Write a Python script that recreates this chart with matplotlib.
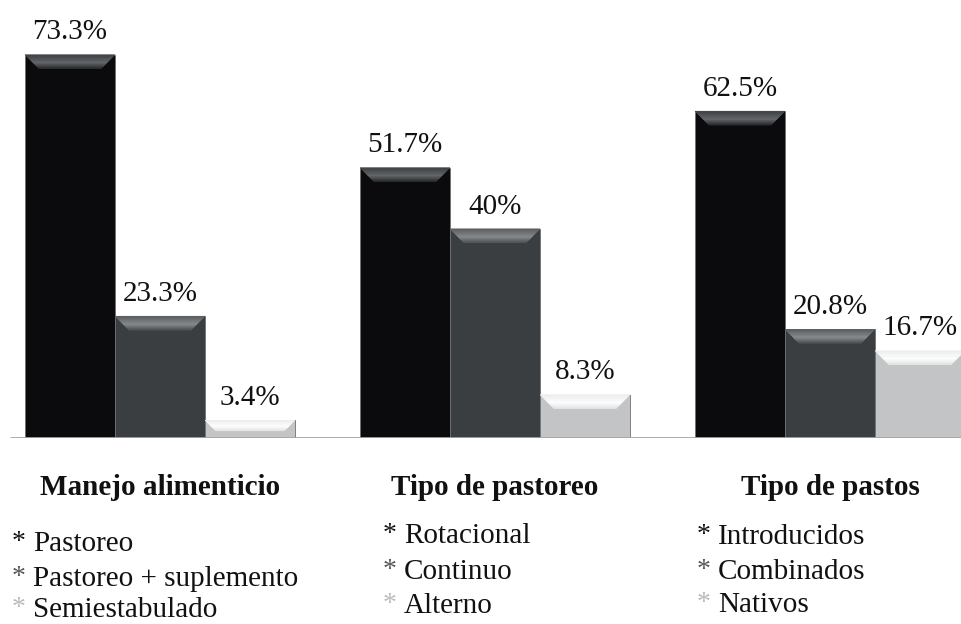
import matplotlib.pyplot as plt
import matplotlib.colors as mcolors
import matplotlib.transforms as mtransforms
import numpy as np

plt.rcParams['font.family'] = ['Liberation Serif', 'DejaVu Serif']

groups = ['Manejo alimenticio', 'Tipo de pastoreo', 'Tipo de pastos']
values = [
    [73.3, 23.3, 3.4],
    [51.7, 40.0, 8.3],
    [62.5, 20.8, 16.7],
]
value_labels = [
    ['73.3%', '23.3%', '3.4%'],
    ['51.7%', '40%', '8.3%'],
    ['62.5%', '20.8%', '16.7%'],
]
items = [
    ['Pastoreo', 'Pastoreo + suplemento', 'Semiestabulado'],
    ['Rotacional', 'Continuo', 'Alterno'],
    ['Introducidos', 'Combinados', 'Nativos'],
]

bar_colors = ['#0b0b0d', '#3b3e41', '#c3c4c6']
# bevel gradient: edge -> ridge -> inner
bevel_stops = [
    ['#3e4044', '#66696d', '#2a2c2f'],
    ['#5a5d60', '#8a8d90', '#505356'],
    ['#eeeeee', '#ffffff', '#e4e5e6'],
]
star_colors = ['#111111', '#555555', '#bbbbbb']

W, H = 961, 624
fig = plt.figure(figsize=(W / 100, H / 100), dpi=100)
ax_left, ax_right = 10, 961
base_y, ymax = 438, 80
px_per_unit = 5.23
ax_h = ymax * px_per_unit
ax = fig.add_axes([ax_left / W, (H - base_y) / H, (ax_right - ax_left) / W, ax_h / H])

spacing = 335.0
xmin = (ax_left - 160) / spacing
xmax = (ax_right - 160) / spacing
ax.set_xlim(xmin, xmax)
ax.set_ylim(0, ymax)
ax.axis('off')

bw = 90 / spacing
dx_px = 1 / spacing
dy_px = 1 / px_per_unit


def grad(stops, t):
    c = [np.array(mcolors.to_rgb(s)) for s in stops]
    if t < 0.6:
        u = t / 0.6
        return c[0] * (1 - u) + c[1] * u
    u = (t - 0.6) / 0.4
    return c[1] * (1 - u) + c[2] * u


x = np.arange(len(groups))
for j in range(3):
    vals = [values[g][j] for g in range(len(groups))]
    bars = ax.bar(x + (j - 1) * bw, vals, width=bw, color=bar_colors[j],
                  edgecolor='#6f7073', linewidth=0.6, zorder=2)
    for g, b in enumerate(bars):
        x0, x1 = b.get_x(), b.get_x() + b.get_width()
        top = b.get_height()
        bpx = min(14, top / dy_px * 0.6)
        bx, by = bpx * dx_px, bpx * dy_px
        n = 24
        for i in range(n):
            t0, t1 = i / n, (i + 1) / n
            poly = [(x0 + bx * t0, top - by * t0), (x1 - bx * t0, top - by * t0),
                    (x1 - bx * t1, top - by * t1), (x0 + bx * t1, top - by * t1)]
            col = grad(bevel_stops[j], (t0 + t1) / 2)
            ax.add_patch(plt.Polygon(poly, closed=True, facecolor=col, edgecolor=col,
                                     lw=0.3, zorder=3))
        ax.annotate(value_labels[g][j], (b.get_x() + b.get_width() / 2, top),
                    xytext=(0, 11), textcoords='offset points', ha='center',
                    va='baseline', fontsize=21, color='#111111', annotation_clip=False)

ax.plot([xmin, xmax], [0, 0], color='#a5a5a5', lw=2, zorder=4, solid_capstyle='butt')

blend = mtransforms.blended_transform_factory(ax.transData, fig.transFigure)
for g, name in enumerate(groups):
    ax.text(x[g], 1 - 495 / H, name, transform=blend, ha='center', va='baseline',
            fontsize=21, fontweight='bold', color='#111111')

legend_x = [12, 383, 697]
legend_base = [[551, 586, 617], [543, 579, 613], [544, 579, 612]]
for g in range(len(groups)):
    for k, label in enumerate(items[g]):
        yb = 1 - legend_base[g][k] / H
        fig.text(legend_x[g] / W, yb + 2 / H, '*', fontsize=20, color=star_colors[k],
                 ha='left', va='baseline')
        fig.text((legend_x[g] + 21) / W, yb, label, fontsize=21, color='#111111',
                 ha='left', va='baseline')

fig.savefig('out.png', dpi=100)
